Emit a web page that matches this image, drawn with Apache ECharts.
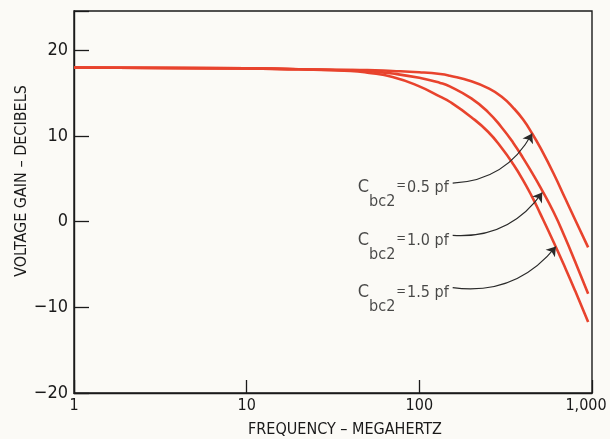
<!DOCTYPE html>
<html>
<head>
<meta charset="utf-8">
<script src="https://cdn.jsdelivr.net/npm/echarts@6/dist/echarts.min.js"></script>
<style>
html,body{margin:0;padding:0;background:#fbfaf6;}
#chart{width:610px;height:439px;}
</style>
</head>
<body>
<div id="chart"></div>
<script>
// Frequency samples (MHz)
var freqs = [1, 10, 20, 40, 50, 70, 100, 132, 150, 200, 250, 300, 350, 400, 450, 500, 600, 700, 800, 950];
// Voltage gain (dB) for each C_bc2
var gain05 = [18.0, 17.9, 17.8, 17.7, 17.7, 17.6, 17.45, 17.25, 17.05, 16.4, 15.6, 14.6, 13.3, 11.9, 10.3, 8.7, 5.6, 2.7, 0.2, -3.0];
var gain10 = [18.0, 17.9, 17.8, 17.7, 17.6, 17.3, 16.8, 16.2, 15.8, 14.4, 12.8, 11.0, 9.2, 7.4, 5.7, 4.1, 1.1, -1.9, -4.7, -8.4];
var gain15 = [18.0, 17.9, 17.8, 17.6, 17.4, 16.9, 15.8, 14.6, 14.0, 12.2, 10.5, 8.6, 6.7, 4.8, 2.9, 1.0, -2.4, -5.4, -8.1, -11.7];
var capLabels = ['0.5', '1.0', '1.5'];
var yTicks = [-20, -10, 0, 10, 20];
var xTicks = [1, 10, 100, 1000];

function pairs(v) { return freqs.map(function (f, i) { return [f, v[i]]; }); }

var FONT = '"Liberation Sans Narrow","DejaVu Sans Condensed","Roboto Condensed","Liberation Sans",sans-serif';
var RED = '#e8432d';
var INK = '#1a1a1a';

// annotation anchors in data coordinates
var labelAnchors = [[44, 3.6], [44, -2.6], [44, -8.7]];
var leaderStarts = [[156, 4.5], [156, -1.6], [156, -7.7]];
var arrowTips = [[450, 10.3], [515, 3.4], [618, -2.9]];

var chart = echarts.init(document.getElementById('chart'));
var lineSeries = [gain05, gain10, gain15].map(function (g, i) {
  return {
    type: 'line', name: 'C=' + capLabels[i], data: pairs(g), smooth: 0.5,
    showSymbol: false, symbol: 'none',
    lineStyle: { color: RED, width: 2.6 }, z: 3
  };
});

chart.setOption({
  backgroundColor: '#fbfaf6',
  animation: false,
  grid: { left: 74, right: 18, top: 11, bottom: 46, containLabel: false, outerBoundsMode: 'none',
    show: true, borderColor: INK, borderWidth: 1.4, backgroundColor: 'transparent' },
  xAxis: {
    type: 'log', logBase: 10, min: 1, max: 1000,
    name: 'FREQUENCY – MEGAHERTZ', nameLocation: 'middle', nameGap: 29, nameMoveOverlap: false,
    nameTextStyle: { fontFamily: FONT, fontSize: 16, color: INK, padding: [0, 0, 0, 24] },
    axisLine: { show: true, onZero: false, lineStyle: { color: INK, width: 1.4 } },
    axisTick: { show: true, inside: true, length: 13, lineStyle: { color: INK, width: 1.3 } },
    minorTick: { show: false },
    splitLine: { show: false },
    axisLabel: { fontFamily: FONT, fontSize: 16, color: INK, margin: 5,
      formatter: function (v) { return v >= 1000 ? '{m|1,000}' : String(v); },
      rich: { m: { fontFamily: FONT, fontSize: 16, color: INK, padding: [0, 12, 0, 0] } } }
  },
  yAxis: {
    type: 'value', min: -20, max: 24.6, interval: 10,
    name: 'VOLTAGE GAIN – DECIBELS', nameLocation: 'middle', nameGap: 44, nameRotate: 90, nameMoveOverlap: false,
    nameTextStyle: { fontFamily: FONT, fontSize: 16, color: INK, padding: [0, 0, 0, 42] },
    axisLine: { show: true, onZero: false, lineStyle: { color: INK, width: 1.4 } },
    axisTick: { show: true, inside: true, length: 15, lineStyle: { color: INK, width: 1.3 } },
    splitLine: { show: false },
    axisLabel: { fontFamily: FONT, fontSize: 18, color: INK, margin: 6,
      formatter: function (v) {
        if (yTicks.indexOf(v) < 0) return '';
        return v < 0 ? '−' + Math.abs(v) : String(v);
      } }
  },
  series: lineSeries.concat([
    {
      type: 'lines', coordinateSystem: 'cartesian2d', polyline: false,
      symbol: ['none', 'arrow'], symbolSize: 9,
      lineStyle: { color: '#2a2a2a', width: 1.1, curveness: -0.28, opacity: 1 },
      data: leaderStarts.map(function (s, i) { return { coords: [s, arrowTips[i]] }; }),
      z: 4
    },
    {
      type: 'scatter', symbolSize: 0, silent: true,
      data: labelAnchors.map(function (p, i) { return { value: p, name: capLabels[i] }; }),
      label: {
        show: true, position: [0, 0], align: 'left', verticalAlign: 'middle',
        formatter: function (p) { return '{c|C}{s|bc2}{t|=}{v|' + p.name + ' pf}'; },
        rich: {
          c: { fontFamily: FONT, fontSize: 18, color: INK, padding: [0, 0, 8, 0] },
          s: { fontFamily: FONT, fontSize: 16, color: INK, padding: [21, 0, 0, 0] },
          t: { fontFamily: FONT, fontSize: 13, color: INK, padding: [0, 1, 10, 1] },
          v: { fontFamily: FONT, fontSize: 16, color: INK, padding: [0, 0, 7, 0] }
        }
      },
      z: 5
    }
  ])
});
</script>
</body>
</html>
